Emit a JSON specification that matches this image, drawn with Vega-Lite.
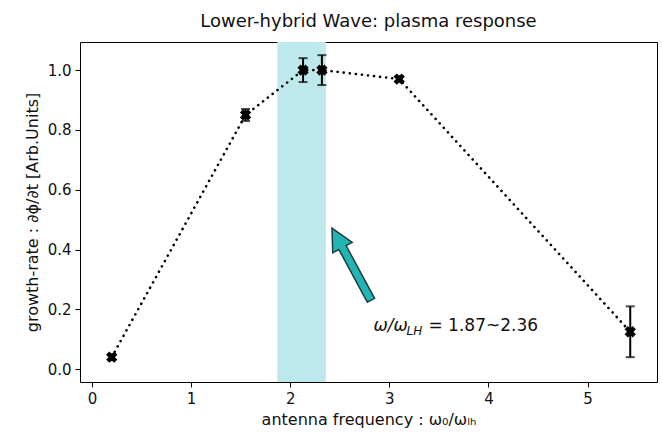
{
  "$schema": "https://vega.github.io/schema/vega-lite/v6.json",
  "autosize": "none",
  "width": 577,
  "height": 340,
  "padding": {"left": 80, "top": 42, "right": 5, "bottom": 51},
  "config": {
    "font": "DejaVu Sans",
    "view": {"stroke": "#000", "strokeWidth": 1},
    "axis": {"grid": false, "domain": false, "tickColor": "#000", "tickSize": 5, "labelFontSize": 15, "labelColor": "#111", "titleFontSize": 16, "titleFontWeight": "normal", "titleColor": "#111", "labelFont": "DejaVu Sans", "titleFont": "DejaVu Sans"}
  },
  "title": {"text": "Lower-hybrid Wave: plasma response", "fontSize": 18, "fontWeight": "normal", "color": "#111", "offset": 11, "font": "DejaVu Sans"},
  "datasets": {
    "pts": [
      {"x": 0.2, "y": 0.04, "lo": 0.03, "hi": 0.05},
      {"x": 1.55, "y": 0.85, "lo": 0.83, "hi": 0.87},
      {"x": 2.13, "y": 1.0, "lo": 0.96, "hi": 1.04},
      {"x": 2.32, "y": 1.0, "lo": 0.95, "hi": 1.05},
      {"x": 3.1, "y": 0.97, "lo": 0.96, "hi": 0.98},
      {"x": 5.43, "y": 0.125, "lo": 0.04, "hi": 0.21}
    ],
    "span": [{"x": 1.87, "x2": 2.36}],
    "arrow": [{"x": 2.618, "y": 0.351}],
    "label": [{"x": 2.84, "y": 0.145}]
  },
  "layer": [
    {
      "data": {"name": "span"},
      "mark": {"type": "rect", "color": "#bde9ec"},
      "encoding": {
        "x": {"field": "x", "type": "quantitative", "scale": {"domain": [-0.12, 5.7], "nice": false, "zero": false}, "axis": {"values": [0, 1, 2, 3, 4, 5], "format": "d", "title": "antenna frequency : ω₀/ωₗₕ", "titlePadding": 5, "labelPadding": 4}},
        "x2": {"field": "x2"}
      }
    },
    {
      "data": {"name": "pts"},
      "mark": {"type": "line", "color": "#000", "strokeWidth": 2.6, "strokeDash": [0.1, 6], "strokeCap": "round"},
      "encoding": {
        "x": {"field": "x", "type": "quantitative", "title": "antenna frequency : ω₀/ωₗₕ"},
        "y": {"field": "y", "type": "quantitative", "title": "growth-rate : ∂ϕ/∂t [Arb.Units]", "scale": {"domain": [-0.043, 1.094], "nice": false, "zero": false}, "axis": {"values": [0, 0.2, 0.4, 0.6, 0.8, 1.0], "format": ".1f", "titlePadding": 7, "labelPadding": 4}}
      }
    },
    {
      "data": {"name": "pts"},
      "mark": {"type": "errorbar", "ticks": {"size": 9, "thickness": 2, "color": "#000"}, "rule": {"strokeWidth": 2, "color": "#000"}},
      "encoding": {
        "x": {"field": "x", "type": "quantitative", "title": "antenna frequency : ω₀/ωₗₕ"},
        "y": {"field": "lo", "type": "quantitative", "title": "growth-rate : ∂ϕ/∂t [Arb.Units]"},
        "y2": {"field": "hi"}
      }
    },
    {
      "data": {"name": "pts"},
      "mark": {"type": "point", "shape": "cross", "angle": 45, "filled": true, "color": "#000", "size": 130, "opacity": 1},
      "encoding": {
        "x": {"field": "x", "type": "quantitative", "title": "antenna frequency : ω₀/ωₗₕ"},
        "y": {"field": "y", "type": "quantitative", "title": "growth-rate : ∂ϕ/∂t [Arb.Units]"}
      }
    },
    {
      "data": {"name": "arrow"},
      "mark": {"type": "point", "shape": "M0,-1 L0.27,-0.46 L0.1,-0.46 L0.1,1 L-0.1,1 L-0.1,-0.46 L-0.27,-0.46 Z", "angle": -28.4, "filled": true, "fill": "#22b5b3", "stroke": "#1d3f40", "strokeWidth": 1.5, "size": 6724, "opacity": 1, "fillOpacity": 1},
      "encoding": {
        "x": {"field": "x", "type": "quantitative", "title": "antenna frequency : ω₀/ωₗₕ"},
        "y": {"field": "y", "type": "quantitative", "title": "growth-rate : ∂ϕ/∂t [Arb.Units]"}
      }
    },
    {
      "data": {"name": "label"},
      "mark": {"type": "text", "text": "ω/ω", "align": "left", "baseline": "middle", "fontSize": 17, "fontStyle": "italic", "color": "#111"},
      "encoding": {"x": {"field": "x", "type": "quantitative", "title": "antenna frequency : ω₀/ωₗₕ"}, "y": {"field": "y", "type": "quantitative", "title": "growth-rate : ∂ϕ/∂t [Arb.Units]"}}
    },
    {
      "data": {"name": "label"},
      "mark": {"type": "text", "text": "LH", "align": "left", "baseline": "middle", "fontSize": 12, "fontStyle": "italic", "color": "#111", "dx": 33, "dy": 5},
      "encoding": {"x": {"field": "x", "type": "quantitative", "title": "antenna frequency : ω₀/ωₗₕ"}, "y": {"field": "y", "type": "quantitative", "title": "growth-rate : ∂ϕ/∂t [Arb.Units]"}}
    },
    {
      "data": {"name": "label"},
      "mark": {"type": "text", "text": "= 1.87~2.36", "align": "left", "baseline": "middle", "fontSize": 17, "color": "#111", "dx": 55},
      "encoding": {"x": {"field": "x", "type": "quantitative", "title": "antenna frequency : ω₀/ωₗₕ"}, "y": {"field": "y", "type": "quantitative", "title": "growth-rate : ∂ϕ/∂t [Arb.Units]"}}
    }
  ]
}
